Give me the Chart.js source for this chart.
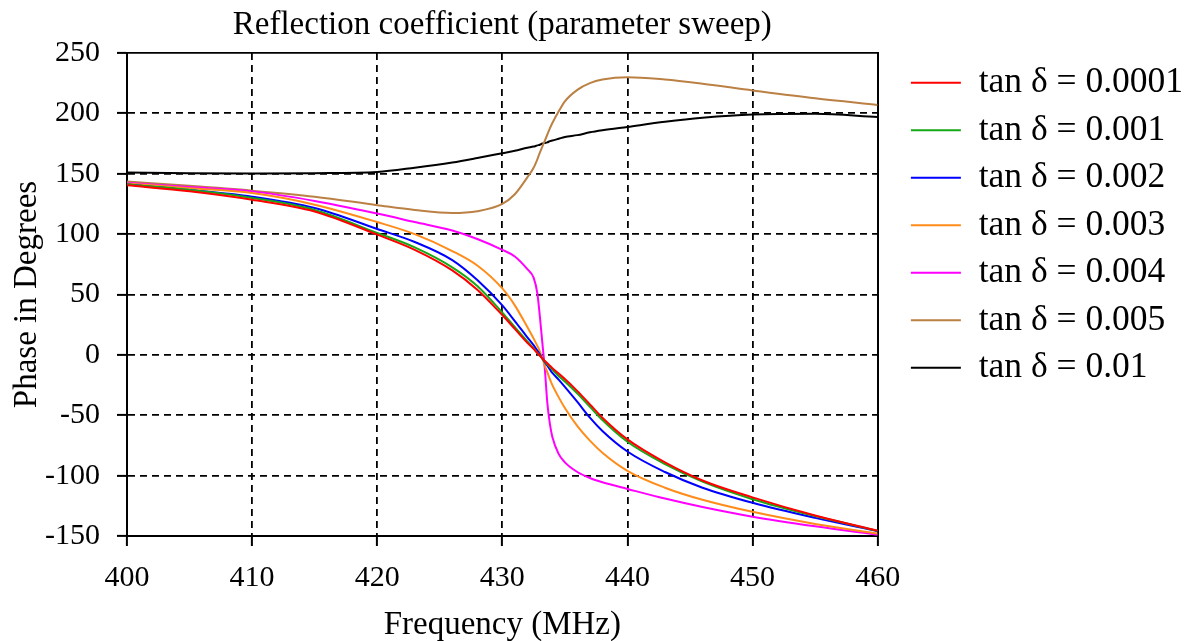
<!DOCTYPE html>
<html>
<head>
<meta charset="utf-8">
<script src="https://cdn.jsdelivr.net/npm/chart.js@4.4.1/dist/chart.umd.min.js"></script>
<style>
html,body{margin:0;padding:0;background:#fff;}
#wrap{width:1193px;height:641px;}
</style>
</head>
<body>
<div id="wrap"><canvas id="c" width="1193" height="641"></canvas></div>
<script>
// ---- data ----
const freqMHz = [400,405,410,415,420,423,426,428,430,431,432,432.5,432.8,433,433.2,433.4,433.6,433.8,434,434.5,435,436,437,438,440,443,446,450,455,460];

const seriesLabels = ['tan \u03b4 = 0.0001','tan \u03b4 = 0.001','tan \u03b4 = 0.002','tan \u03b4 = 0.003','tan \u03b4 = 0.004','tan \u03b4 = 0.005','tan \u03b4 = 0.01'];

const phaseTan00001 = [140.5,135.5,128.5,118.8,99.6,87,70,54,33,21.5,10,5,1.5,-0.8,-3,-5,-7,-9,-11,-15.5,-20,-30,-41,-52,-70,-89,-104,-118,-133,-145.6];
const phaseTan0001  = [141,136.5,130,120,101,89,72.5,57,35,23,11.2,5.3,1.7,-0.6,-3,-5.4,-7.8,-10,-12.2,-17.5,-22,-32,-43,-54,-72,-90.5,-105,-119.5,-133.5,-145.6];
const phaseTan0002  = [141,136.5,131,121.6,104.3,93.5,78.5,62,41,28,14.5,8,3.5,0.5,-3,-6,-9,-12,-15,-20.5,-26.5,-39,-52,-63,-80,-97,-110,-122.5,-135,-146];
const phaseTan0003  = [142,138,134,124.4,110,100,86,74,55,41,23,13.5,7.5,3,-3,-9,-14.5,-20,-25,-35,-44,-59,-71,-81,-96,-110,-120,-130,-140,-148];
const phaseTan0004  = [142.5,139,135.4,127.5,117,110,103,96,87,81.5,71,64,51,32,10,-12,-40,-57,-68,-82,-89,-97,-102,-105.5,-111,-119,-126,-134,-142,-149];
const phaseTan0005  = [143.5,140,136,131,124,120,117.5,119,125,133,147,155,162,167.5,172.5,177.5,182.5,187.5,192,201.5,210,219.5,225,228,230,228,224.5,219,212.5,207];
const phaseTan001   = [151,150.5,150.3,150.5,151.5,155,159.3,163,167,169,171.5,172.5,173.5,174,175,175.5,176,177,177.5,179,180.5,182,184.3,186,188.8,193,196.3,199,199.6,197];

const seriesValues = [phaseTan00001, phaseTan0001, phaseTan0002, phaseTan0003, phaseTan0004, phaseTan0005, phaseTan001];
const seriesColors = ['#ff0000','#17a817','#0000ff','#ff8c1a','#ff00ff','#bb8044','#000000'];

const xTicks = {min: 400, max: 460, step: 10};
const yTicks = {min: -150, max: 250, step: 50};

// ---- layout helpers ----
const SERIF = '"Liberation Serif", "Times New Roman", serif';
const LEGEND_FONT = 35.5;
const LEGEND_BOX = 50;
const LEGEND_PAD = 12;
const CHART_RIGHT = 878;
const LEGEND_TEXT_X = 979;
const GAP_RIGHT = LEGEND_TEXT_X - LEGEND_FONT/2 - LEGEND_BOX - LEGEND_PAD - CHART_RIGHT;
const mctx = document.createElement('canvas').getContext('2d');
mctx.font = LEGEND_FONT + 'px ' + SERIF;
const tw = Math.max(...seriesLabels.map(s => mctx.measureText(s).width));
const legendW = LEGEND_PAD + LEGEND_BOX + LEGEND_FONT/2 + tw + 10;
let padRight = 1193 - (CHART_RIGHT + GAP_RIGHT) - legendW;
if (padRight < 0) padRight = 0;

const datasets = seriesValues.map((vals, k) => ({
  label: seriesLabels[k],
  data: freqMHz.map((f, i) => ({x: f, y: vals[i]})),
  borderColor: seriesColors[k],
  backgroundColor: seriesColors[k],
  borderWidth: 2,
  pointRadius: 0,
  pointHoverRadius: 0,
  cubicInterpolationMode: 'monotone',
  fill: false
}));

const dashFor = (edge) => (ctx) => (ctx.tick && ctx.tick.value === edge) ? [] : [7, 5];

Chart.defaults.font.family = SERIF;
Chart.defaults.color = '#000';

new Chart(document.getElementById('c'), {
  type: 'line',
  data: {datasets},
  options: {
    responsive: false,
    animation: false,
    devicePixelRatio: 1,
    layout: {padding: {left: 0, top: 0, bottom: 0, right: padRight}},
    plugins: {
      title: {
        display: true,
        text: 'Reflection coefficient (parameter sweep)',
        fullSize: false,
        color: '#000',
        font: {family: SERIF, size: 33, weight: 'normal'},
        padding: {top: 6, bottom: 7.4}
      },
      legend: {
        display: true,
        position: 'right',
        align: 'start',
        fullSize: false,
        maxWidth: 500,
        labels: {
          boxWidth: LEGEND_BOX,
          boxHeight: 0,
          padding: LEGEND_PAD,
          color: '#000',
          font: {family: SERIF, size: LEGEND_FONT}
        }
      },
      tooltip: {enabled: false}
    },
    scales: {
      x: {
        type: 'linear',
        position: 'bottom',
        min: xTicks.min,
        max: xTicks.max,
        afterFit: s => { s.height = 105; },
        ticks: {stepSize: xTicks.step, color: '#000', padding: 14, maxRotation: 0,
                font: {family: SERIF, size: 30}},
        grid: {color: '#000', lineWidth: 1.8, tickLength: 10, tickColor: '#000', tickWidth: 2, tickBorderDash: []},
        border: {display: true, color: '#000', width: 2, dash: dashFor(xTicks.max)},
        title: {display: true, text: 'Frequency (MHz)', color: '#000',
                font: {family: SERIF, size: 33}, padding: {top: 0, bottom: -4}}
      },
      y: {
        type: 'linear',
        position: 'left',
        min: yTicks.min,
        max: yTicks.max,
        afterFit: s => { s.width = 127; },
        ticks: {stepSize: yTicks.step, color: '#000', padding: 17,
                font: {family: SERIF, size: 30}},
        grid: {color: '#000', lineWidth: 1.8, tickLength: 10, tickColor: '#000', tickWidth: 2, tickBorderDash: []},
        border: {display: true, color: '#000', width: 2, dash: dashFor(yTicks.max)},
        title: {display: true, text: 'Phase in Degrees', color: '#000',
                font: {family: SERIF, size: 33}, padding: {top: 8, bottom: 0}}
      },
      y2: {
        type: 'linear',
        position: 'right',
        afterFit: s => { s.width = GAP_RIGHT; },
        ticks: {display: false},
        grid: {display: false},
        border: {display: true, color: '#000', width: 2}
      }
    }
  }
});
</script>
</body>
</html>
